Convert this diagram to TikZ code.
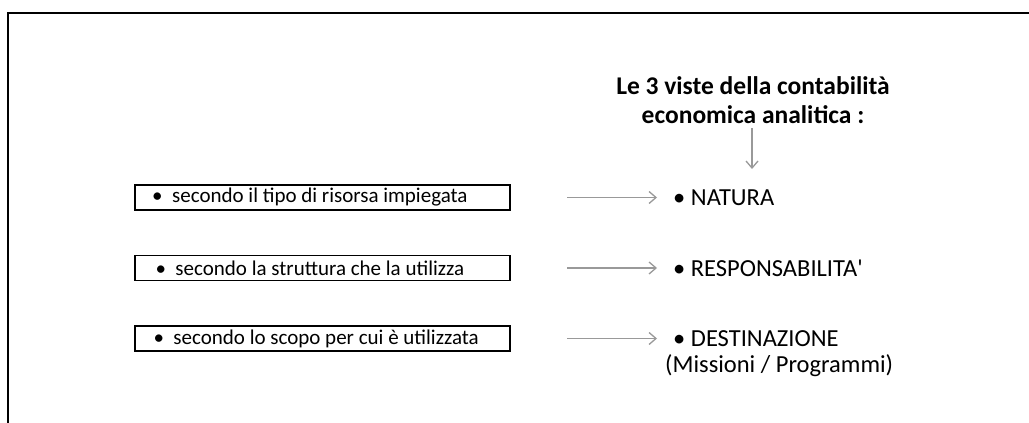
\documentclass[tikz,border=0pt]{standalone}
\usepackage{fontspec}
\setmainfont{Carlito}
\usetikzlibrary{arrows.meta}
\tikzset{
  frameline/.style={line width=1.6pt, black},
  itembox/.style={draw, line width=1.5pt, minimum width=375pt, minimum height=25pt, inner sep=0pt, font=\fontsize{21}{24}\selectfont},
  lbl/.style={anchor=base west, inner sep=0pt, font=\fontsize{24.5}{27}\selectfont},
  ttl/.style={align=center, inner sep=0pt, font=\bfseries\fontsize{25.5}{29}\selectfont},
  garrow/.style={draw=gray!80, line width=1.4pt, -{Straight Barb[length=7pt,width=12pt,line width=1.3pt]}}
}
\begin{document}
\begin{tikzpicture}[x=1pt,y=-1pt]
\useasboundingbox (0,0) rectangle (1029,423);
\coordinate (tl) at (8,13);
\coordinate (tr) at (1029,13);
\coordinate (bl) at (8,423);
\draw[frameline] (bl) -- (tl) -- (tr);

\node[ttl] (title) at (753,100) {Le 3 viste della contabilità\\economica analitica :};
\coordinate (vs) at (752,128);
\coordinate (ve) at (752,169);
\draw[garrow] (vs) -- (ve);

\node[itembox] (b1) at (322.5,197.5) {\textbullet\ \ secondo il tipo di risorsa impiegata\hspace*{1.2em}};
\node[itembox] (b2) at (322.5,268) {\textbullet\ \ secondo la struttura che la utilizza\hspace*{1.2em}};
\node[itembox] (b3) at (322.5,338.5) {\textbullet\ \ secondo lo scopo per cui è utilizzata\hspace*{0.6em}};

\node[lbl] (n1) at (673,205.5) {\textbullet\ NATURA};
\node[lbl] (n2) at (673,276) {\textbullet\ RESPONSABILITA\textquotesingle};
\node[lbl] (n3) at (673,346.5) {\textbullet\ DESTINAZIONE};
\node[lbl] (n4) at (665,372) {(Missioni / Programmi)};

\coordinate (a1) at (567,197.5);
\coordinate (a2) at (567,268);
\coordinate (a3) at (567,338.5);
\draw[garrow] (a1) -- (a1 -| 657,0);
\draw[garrow] (a2) -- (a2 -| 657,0);
\draw[garrow] (a3) -- (a3 -| 657,0);
\end{tikzpicture}
\end{document}
